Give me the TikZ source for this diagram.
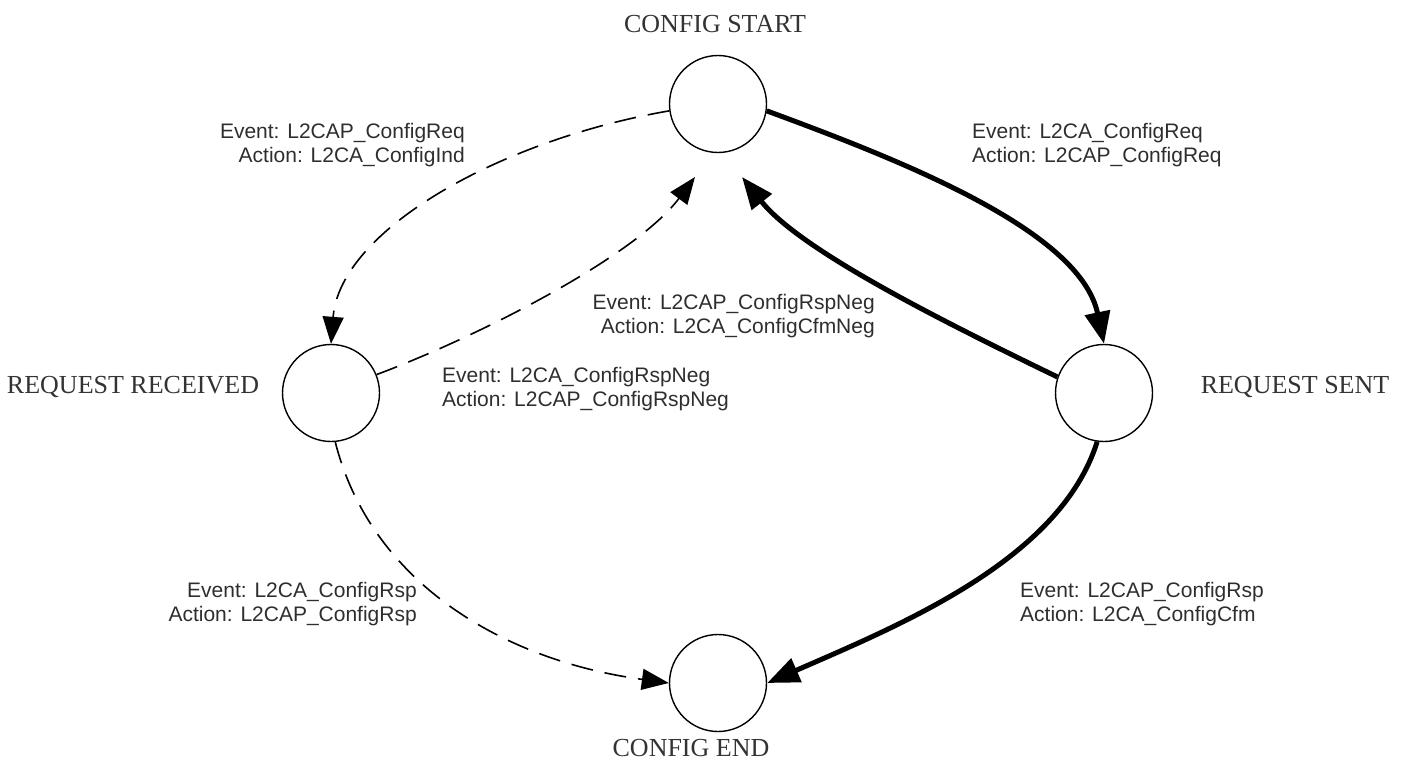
\documentclass[tikz,border=0pt]{standalone}
\usepackage{fontspec}
\setmainfont{Liberation Serif}
\setsansfont{Liberation Sans}
\usetikzlibrary{arrows.meta}
\begin{document}
\begin{tikzpicture}[x=1pt,y=-1pt,
  state/.style={circle,draw,line width=1.4pt,minimum size=97pt,inner sep=0pt},
  statename/.style={font=\fontsize{26}{30}\selectfont,inner sep=0pt,text=black!80},
  evlabel/.style={font=\sffamily\fontsize{21}{24}\selectfont,inner sep=0pt,text=black!82},
  peer/.style={line width=1.6pt,dash pattern=on 22pt off 12pt,-{Triangle[length=27pt,width=21pt]}},
  local/.style={line width=5pt,-{Triangle[length=32pt,width=25pt]}}]
\useasboundingbox (0,0) rectangle (1408,760);

% states
\node[state] (cs) at (718,104) {};
\node[state] (rr) at (331,393) {};
\node[state] (rs) at (1104,393) {};
\node[state] (ce) at (718,683) {};

% state names
\node[statename] (ncs) at (715,24) {CONFIG START};
\node[statename] (nrr) at (133,387) {REQUEST RECEIVED};
\node[statename] (nrs) at (1295,387) {REQUEST SENT};
\node[statename] (nce) at (691,748) {CONFIG END};

% free arrow ends below CONFIG START
\coordinate (tipL) at (695,177);
\coordinate (tipR) at (742,177);

% transitions
\draw[peer] (cs.188) .. controls (500,140) and (340,230) .. (rr.north);
\draw[peer] (rr.22) .. controls (477,337) and (635,257) .. (tipL);
\draw[local] (cs.-8) .. controls (900,160) and (1080,230) .. (rs.north);
\draw[local] (rs.161) .. controls (940,320) and (800,250) .. (tipR);
\draw[peer] (rr.-85) .. controls (370,580) and (500,660) .. (ce.west);
\draw[local] (rs.-98) .. controls (1060,560) and (900,625) .. (ce.east);

% transition labels
\node[evlabel,anchor=east,align=right] (l1) at (465,145)
  {Event: L2CAP\_ConfigReq\\Action: L2CA\_ConfigInd};
\node[evlabel,anchor=west,align=left] (l2) at (972,145)
  {Event: L2CA\_ConfigReq\\Action: L2CAP\_ConfigReq};
\node[evlabel,anchor=east,align=right] (l3) at (875,316)
  {Event: L2CAP\_ConfigRspNeg\\Action: L2CA\_ConfigCfmNeg};
\node[evlabel,anchor=west,align=left] (l4) at (442,389)
  {Event: L2CA\_ConfigRspNeg\\Action: L2CAP\_ConfigRspNeg};
\node[evlabel,anchor=east,align=right] (l5) at (417,604)
  {Event: L2CA\_ConfigRsp\\Action: L2CAP\_ConfigRsp};
\node[evlabel,anchor=west,align=left] (l6) at (1020,604)
  {Event: L2CAP\_ConfigRsp\\Action: L2CA\_ConfigCfm};
\end{tikzpicture}
\end{document}
